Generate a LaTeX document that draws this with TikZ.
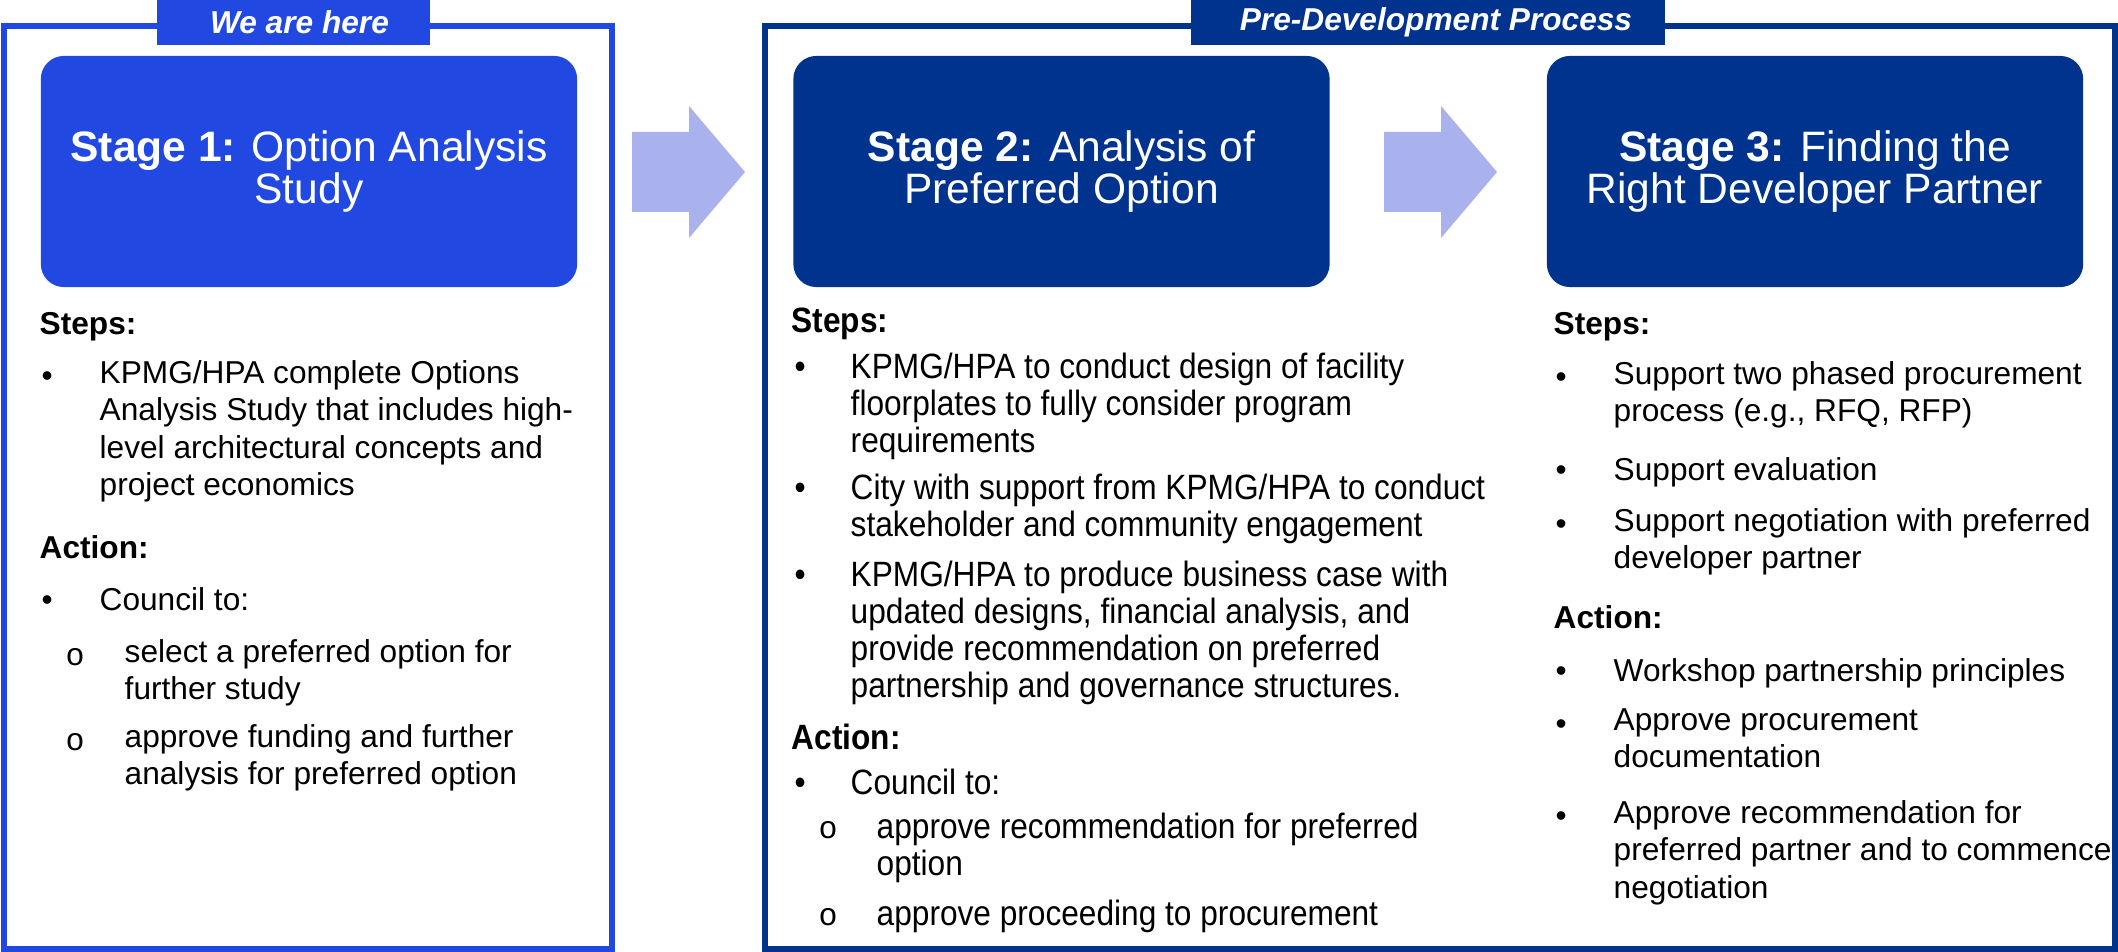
\documentclass[tikz,border=0pt]{standalone}
\usepackage{fontspec}
\setmainfont{Liberation Sans}
\newfontfamily\narrowsans[FakeStretch=0.9]{Liberation Sans}
\newfontfamily\bulletmono{Liberation Mono}
\usepackage{tikz}
\usepackage{xcolor}
\definecolor{stageblue}{RGB}{33,73,226}
\definecolor{kpmgnavy}{RGB}{0,51,141}
\definecolor{arrowlilac}{RGB}{170,178,238}

\newcommand{\bodyfont}{\fontsize{9}{10.6}\selectfont}
\newcommand{\narrowbody}{\narrowsans\fontsize{10}{10.6}\selectfont}

\tikzset{
  frameline/.style={line width=0.06cm},
  tab/.style={fill=#1, text=white, inner sep=0, minimum height=0.45cm,
    font=\fontsize{9}{11}\selectfont\bfseries\itshape},
  stagebox/.style={fill=#1, text=white, rounded corners=0.23cm, inner sep=0,
    align=center, minimum width=5.36cm, minimum height=2.31cm,
    font=\fontsize{12.1}{12.2}\selectfont},
  head/.style={anchor=base west, inner sep=0, font=\bodyfont\bfseries},
  % first baseline sits on the given point: strut height = 0.7 x 10.6pt
  txt/.style={anchor=north west, yshift=7.42pt, inner sep=0, align=left,
    font=\bodyfont, execute at begin node=\strut},
  subdot/.style={anchor=base west, inner sep=0, font=\bulletmono\fontsize{9}{10}\selectfont},
}

\begin{document}
\begin{tikzpicture}[x=0.01cm, y=-0.01cm]
  \useasboundingbox (0,0) rectangle (2118,952);

  % ── outer frames ─────────────────────────────────────────────
  \draw[frameline, stageblue] (4,26) rectangle (612,949);
  \draw[frameline, kpmgnavy] (765,26) rectangle (2115,949);

  % tabs sitting on the frame tops
  \node[tab=stageblue, minimum width=2.73cm] (heretab) at (293.5,22.5) {\hspace*{0.12cm}We are here};
  \node[tab=kpmgnavy, minimum width=4.74cm] (predevtab) at (1428,22) {\hspace*{0.16cm}Pre-Development Process};

  % ── stage headers ────────────────────────────────────────────
  \node[stagebox=stageblue] (stage1) at (309,171.5) {\textbf{Stage 1:} Option Analysis\\Study};
  \node[stagebox=kpmgnavy] (stage2) at (1061.5,171.5) {\textbf{Stage 2:} Analysis of\\Preferred Option};
  \node[stagebox=kpmgnavy] (stage3) at (1815,171.5) {\textbf{Stage 3:} Finding the\\Right Developer Partner};

  % block arrows between the stages
  \foreach \ax in {632, 1384}{
    \fill[arrowlilac] (\ax,132) -- (\ax+57,132) -- (\ax+57,106) -- (\ax+113,172)
      -- (\ax+57,238) -- (\ax+57,212) -- (\ax,212) -- cycle;
  }

  % ── Stage 1 text ─────────────────────────────────────────────
  \node[head] (s1steps) at (39,335) {Steps:};
  \node[head] (s1action) at (39,558) {Action:};
  \foreach \y/\lab [count=\i] in {386/{KPMG/HPA complete Options\\Analysis Study that includes high-\\level architectural concepts and\\project economics},
                                 610/{Council to:}}{
    \node[txt] (s1dot\i) at (41,\y) {•};
    \node[txt] (s1item\i) at (99,\y) {\lab};
  }
  \foreach \y/\lab [count=\i] in {665/{select a preferred option for\\further study},
                                 750/{approve funding and further\\analysis for preferred option}}{
    \node[subdot] (s1o\i) at (65,\y) {o};
    \node[txt] (s1sub\i) at (124,\y) {\lab};
  }

  % ── Stage 2 text (condensed) ─────────────────────────────────
  \begin{scope}[txt/.append style={font=\narrowbody}, head/.append style={font=\narrowbody\bfseries}]
    \node[head] (s2steps) at (791,333) {Steps:};
    \node[head] (s2action) at (791,749) {Action:};
    \foreach \y/\lab [count=\i] in {378/{KPMG/HPA to conduct design of facility\\floorplates to fully consider program\\requirements},
                                   499/{City with support from KPMG/HPA to conduct\\stakeholder and community engagement},
                                   586/{KPMG/HPA to produce business case with\\updated designs, financial analysis, and\\provide recommendation on preferred\\partnership and governance structures.},
                                   794/{Council to:}}{
      \node[txt] (s2dot\i) at (794,\y) {•};
      \node[txt] (s2item\i) at (850,\y) {\lab};
    }
    \foreach \y/\lab [count=\i] in {838/{approve recommendation for preferred\\option},
                                   925/{approve proceeding to procurement}}{
      \node[subdot] (s2o\i) at (818,\y) {o};
      \node[txt] (s2sub\i) at (876,\y) {\lab};
    }
  \end{scope}

  % ── Stage 3 text ─────────────────────────────────────────────
  \node[head] (s3steps) at (1553,335) {Steps:};
  \node[head] (s3action) at (1553,628) {Action:};
  \foreach \y/\lab [count=\i] in {387/{Support two phased procurement\\process (e.g., RFQ, RFP)},
                                 480/{Support evaluation},
                                 534/{Support negotiation with preferred\\developer partner},
                                 681/{Workshop partnership principles},
                                 734/{Approve procurement\\documentation},
                                 826/{Approve recommendation for\\preferred partner and to commence\\negotiation}}{
    \node[txt] (s3dot\i) at (1555,\y) {•};
    \node[txt] (s3item\i) at (1613,\y) {\lab};
  }
\end{tikzpicture}
\end{document}
